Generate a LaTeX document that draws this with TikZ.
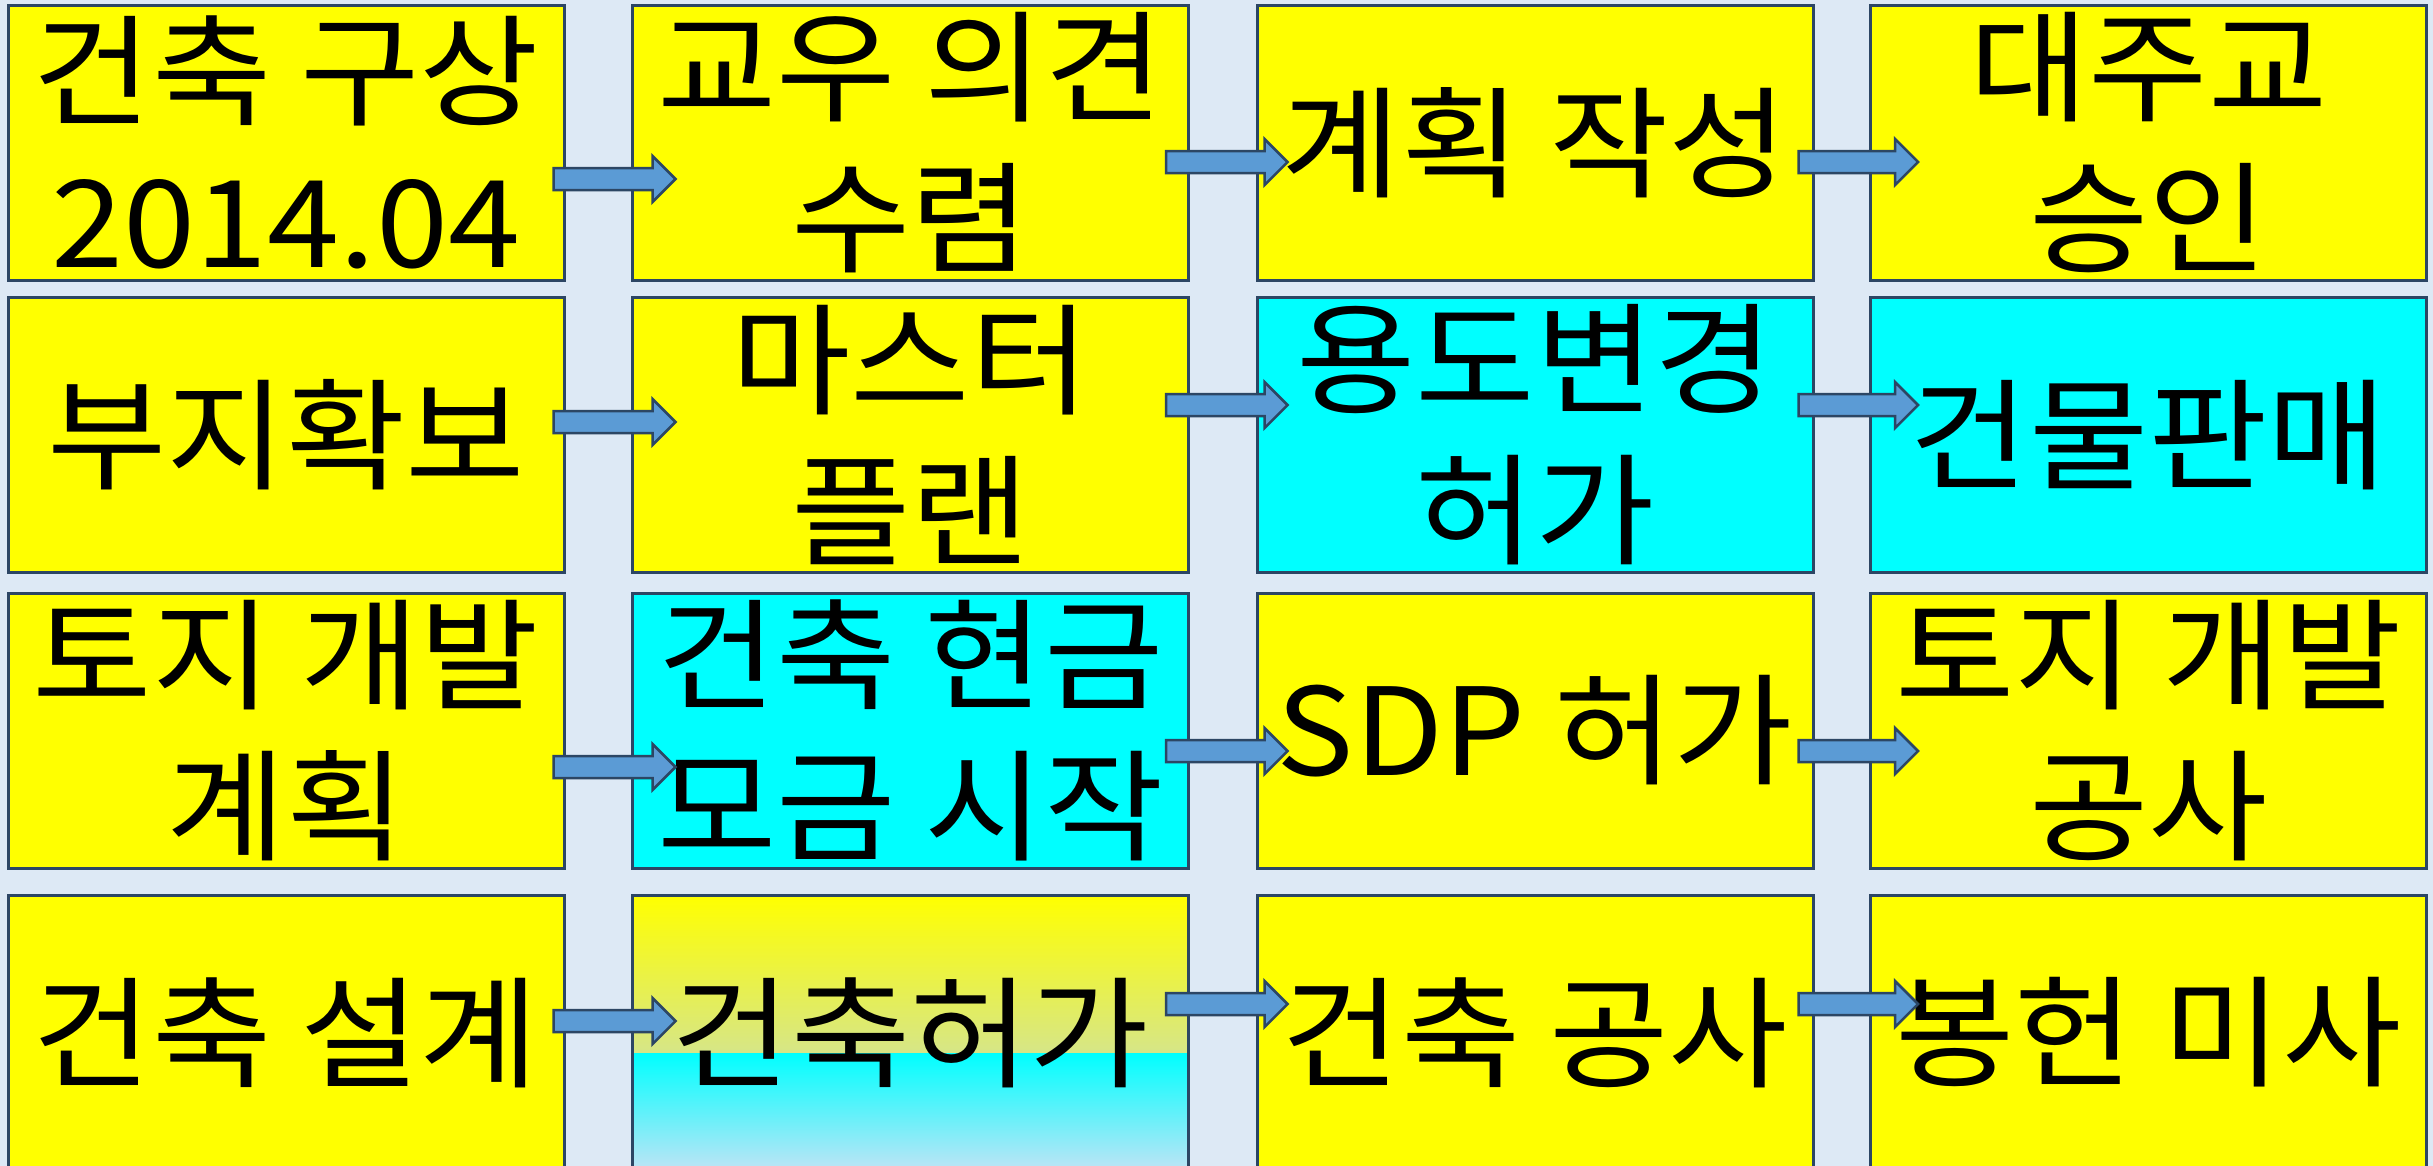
\documentclass[tikz,border=0pt]{standalone}
\usepackage{fontspec}
\setmainfont[FakeStretch=1.07]{Noto Sans CJK KR}
\usepackage{tikz}
\usetikzlibrary{calc}
\definecolor{bgblue}{RGB}{221,233,245}
\definecolor{boxline}{RGB}{44,70,100}
\definecolor{boxyellow}{RGB}{255,255,0}
\definecolor{boxcyan}{RGB}{0,255,255}
\definecolor{arrowblue}{RGB}{91,155,213}
\definecolor{paleblue}{RGB}{184,211,236}
\definecolor{palecyan}{RGB}{190,228,245}

\newcommand{\flowarrow}[5]{%
	\draw[flow] let \p1=($(#1.east)+(-#3,#5)$), \p2=($(#2.west)+(#4,#5)$) in
		(\x1,\y1+1.1mm) -- (\x2-2.3mm,\y1+1.1mm) -- (\x2-2.3mm,\y1+2.3mm) -- (\x2,\y1)
		-- (\x2-2.3mm,\y1-2.3mm) -- (\x2-2.3mm,\y1-1.1mm) -- (\x1,\y1-1.1mm) -- cycle;}

\begin{document}
\begin{tikzpicture}[
		box/.style={draw=boxline, line width=0.3mm, fill=boxyellow, minimum width=5.56cm, minimum height=2.75cm,
			inner sep=0pt, align=center, font=\fontsize{34.5}{43}\selectfont},
		cbox/.style={box, fill=boxcyan},
		flow/.style={draw=boxline, line width=0.25mm, fill=arrowblue, line join=miter}]
	\useasboundingbox (0,0) rectangle (24.33,-11.66);
	\fill[bgblue] (0,0) rectangle (24.33,-11.66);
	\clip (0,0) rectangle (24.33,-11.66);
	\node[box] (idea) at (2.86,-1.425) {건축 구상\\2014.04};
	\node[box] (opinion) at (9.105,-1.425) {교우 의견\\수렴};
	\node[box] (plan) at (15.35,-1.425) {계획 작성};
	\node[box] (approve) at (21.485,-1.425) {대주교\\승인};
	\node[box] (site) at (2.86,-4.35) {부지확보};
	\node[box] (master) at (9.105,-4.35) {마스터\\플랜};
	\node[cbox] (rezone) at (15.35,-4.35) {용도변경\\허가};
	\node[cbox] (sale) at (21.485,-4.35) {건물판매};
	\node[box] (landplan) at (2.86,-7.305) {토지 개발\\계획};
	\node[cbox] (fund) at (9.105,-7.305) {건축 현금\\모금 시작};
	\node[box] (sdp) at (15.35,-7.305) {SDP 허가};
	\node[box] (landwork) at (21.485,-7.305) {토지 개발\\공사};
	\node[box] (design) at (2.86,-10.325) {건축 설계};
	\node[box, fill=none, path picture={
			\shade[top color=boxyellow, bottom color=paleblue] (path picture bounding box.north west)
				rectangle ($(path picture bounding box.north east)+(0,-1.58)$);
			\shade[top color=boxcyan, bottom color=palecyan] ($(path picture bounding box.north west)+(0,-1.58)$)
				rectangle (path picture bounding box.south east);}] (permit) at (9.105,-10.325) {건축허가};
	\node[box] (build) at (15.35,-10.325) {건축 공사};
	\node[box] (mass) at (21.485,-10.325) {봉헌 미사};
	\flowarrow{idea}{opinion}{0.12}{0.445}{-0.365}
	\flowarrow{opinion}{plan}{0.24}{0.32}{-0.195}
	\flowarrow{plan}{approve}{0.16}{0.49}{-0.195}
	\flowarrow{site}{master}{0.12}{0.445}{0.13}
	\flowarrow{master}{rezone}{0.24}{0.32}{0.30}
	\flowarrow{rezone}{sale}{0.16}{0.49}{0.30}
	\flowarrow{landplan}{fund}{0.12}{0.445}{-0.365}
	\flowarrow{fund}{sdp}{0.24}{0.32}{-0.205}
	\flowarrow{sdp}{landwork}{0.16}{0.49}{-0.205}
	\flowarrow{design}{permit}{0.12}{0.445}{0.115}
	\flowarrow{permit}{build}{0.24}{0.32}{0.285}
	\flowarrow{build}{mass}{0.16}{0.49}{0.285}
\end{tikzpicture}
\end{document}
